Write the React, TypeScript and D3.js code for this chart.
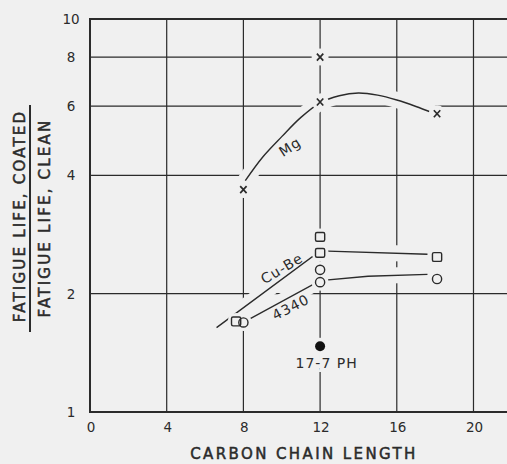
import React from "react";
import * as d3 from "d3";

// chart values
const xTicks = [0, 4, 8, 12, 16, 20];
const yTicks = [1, 2, 4, 6, 8, 10];
const xGrid = [4, 8, 12, 16, 20];
const yGrid = [2, 4, 6, 8];

// Mg (x markers) and its curve
const mgX = [8, 12, 12, 18.1];
const mgY = [3.68, 8.0, 6.15, 5.74];
const mgCurveX = [8.1, 9, 10, 11, 12, 13, 14, 15, 16, 17, 17.8];
const mgCurveY = [3.88, 4.45, 5.02, 5.62, 6.12, 6.38, 6.48, 6.4, 6.22, 5.99, 5.79];

// Cu-Be (squares) and its line
const cuBeX = [7.62, 12, 12, 18.1];
const cuBeY = [1.7, 2.79, 2.54, 2.48];
const cuBeLineX = [6.6, 12, 17.6];
const cuBeLineY = [1.64, 2.57, 2.52];

// 4340 (open circles) and its line
const steelX = [8, 12, 12, 18.1];
const steelY = [1.69, 2.3, 2.14, 2.18];
const steelLineX = [8, 12, 14.5, 17.6];
const steelLineY = [1.69, 2.16, 2.215, 2.24];

// 17-7 PH (filled dot)
const phX = [12];
const phY = [1.47];

const W = 507;
const H = 464;
const BG = "#f0f0f0";
const INK = "#2b2b2b";
const FONT = "'DejaVu Sans', sans-serif";

export default function App() {
  const x = d3.scaleLinear().domain([0, 21.8]).range([90, 508]);
  const y = d3.scaleLog().domain([1, 10]).range([412, 19]);

  const line = (xs: number[], ys: number[], curve: d3.CurveFactory) =>
    d3
      .line<number>()
      .x((d, i) => x(xs[i]))
      .y((d) => y(d))
      .curve(curve)(ys) || "";

  const mgPath = line(mgCurveX, mgCurveY, d3.curveCatmullRom);
  const cuBePath = line(cuBeLineX, cuBeLineY, d3.curveLinear);
  const steelPath = line(steelLineX, steelLineY, d3.curveLinear);
  const curves = [mgPath, cuBePath, steelPath];

  // every marker, for the halos that break the lines around them
  const allMarks = [
    ...mgX.map((v, i) => [v, mgY[i]]),
    ...cuBeX.map((v, i) => [v, cuBeY[i]]),
    ...steelX.map((v, i) => [v, steelY[i]]),
    ...phX.map((v, i) => [v, phY[i]]),
  ];

  const labels = [
    { t: "Mg", x: 10.43, y: 4.73, r: -33 },
    { t: "Cu-Be", x: 10.0, y: 2.32, r: -31 },
    { t: "4340", x: 10.47, y: 1.85, r: -27 },
    { t: "17-7 PH", x: 12.34, y: 1.33, r: 0 },
  ];

  return (
    <svg
      width={W}
      height={H}
      style={{ position: "absolute", left: 0, top: 0 }}
      fontFamily={FONT}
    >
      <rect width={W} height={H} fill={BG} />

      {/* grid */}
      {xGrid.map((v) => (
        <line key={"gx" + v} x1={x(v)} x2={x(v)} y1={y(10)} y2={y(1)} stroke={INK} strokeWidth={1.2} />
      ))}
      {yGrid.map((v) => (
        <line key={"gy" + v} x1={x(0)} x2={W} y1={y(v)} y2={y(v)} stroke={INK} strokeWidth={1.2} />
      ))}

      {/* halos that cut the grid under curves and labels */}
      {curves.map((p, i) => (
        <path key={"h" + i} d={p} fill="none" stroke={BG} strokeWidth={16} strokeLinecap="round" />
      ))}
      {labels.map((l) => (
        <text
          key={"lh" + l.t}
          transform={`translate(${x(l.x)},${y(l.y)}) rotate(${l.r})`}
          textAnchor="middle"
          dominantBaseline="central"
          fontSize={14}
          letterSpacing={1}
          fill={BG}
          stroke={BG}
          strokeWidth={8}
        >
          {l.t}
        </text>
      ))}

      {/* curves */}
      {curves.map((p, i) => (
        <path key={"c" + i} d={p} fill="none" stroke={INK} strokeWidth={1.4} />
      ))}

      {/* marker halos */}
      {allMarks.map((m, i) => (
        <circle key={"mh" + i} cx={x(m[0])} cy={y(m[1])} r={8.5} fill={BG} />
      ))}

      {/* markers */}
      {mgX.map((v, i) => {
        const cx = x(v);
        const cy = y(mgY[i]);
        return (
          <path
            key={"mg" + i}
            d={`M${cx - 3.2},${cy - 3.5}L${cx + 3.2},${cy + 3.5}M${cx + 3.2},${cy - 3.5}L${cx - 3.2},${cy + 3.5}`}
            stroke={INK}
            strokeWidth={1.7}
          />
        );
      })}
      {cuBeX.map((v, i) => (
        <rect
          key={"cb" + i}
          x={x(v) - 4.6}
          y={y(cuBeY[i]) - 4.4}
          width={9.2}
          height={8.8}
          rx={1.5}
          fill={BG}
          stroke={INK}
          strokeWidth={1.4}
        />
      ))}
      {steelX.map((v, i) => (
        <circle key={"st" + i} cx={x(v)} cy={y(steelY[i])} r={4.6} fill="none" stroke={INK} strokeWidth={1.4} />
      ))}
      {phX.map((v, i) => (
        <circle key={"ph" + i} cx={x(v)} cy={y(phY[i])} r={5} fill="#111" />
      ))}

      {/* labels */}
      {labels.map((l) => (
        <text
          key={"l" + l.t}
          transform={`translate(${x(l.x)},${y(l.y)}) rotate(${l.r})`}
          textAnchor="middle"
          dominantBaseline="central"
          fontSize={14}
          letterSpacing={1}
          fill={INK}
        >
          {l.t}
        </text>
      ))}

      {/* frame */}
      <line x1={x(0)} x2={x(0)} y1={y(10) - 1} y2={y(1) + 1} stroke={INK} strokeWidth={2} />
      <line x1={x(0)} x2={W} y1={y(1)} y2={y(1)} stroke={INK} strokeWidth={2} />
      <line x1={x(0)} x2={W} y1={y(10)} y2={y(10)} stroke={INK} strokeWidth={2} />

      {/* tick labels */}
      {xTicks.map((v) => (
        <text key={"tx" + v} x={x(v) + 1} y={432} textAnchor="middle" fontSize={13.5} fill={INK}>
          {v}
        </text>
      ))}
      {yTicks.map((v) => (
        <text key={"ty" + v} x={71} y={y(v)} dy="0.36em" textAnchor="middle" fontSize={13.5} fill={INK}>
          {v}
        </text>
      ))}

      {/* axis titles */}
      <text
        x={304}
        y={459}
        textAnchor="middle"
        fontSize={15}
        letterSpacing={2.4}
        fill={INK}
        stroke={INK}
        strokeWidth={0.5}
      >
        CARBON CHAIN LENGTH
      </text>
      <text
        transform={`translate(25,216) rotate(-90)`}
        textAnchor="middle"
        fontSize={15}
        letterSpacing={2.2}
        fill={INK}
        stroke={INK}
        strokeWidth={0.5}
      >
        FATIGUE LIFE, COATED
      </text>
      <line x1={30} x2={30} y1={105} y2={332} stroke={INK} strokeWidth={2} />
      <text
        transform={`translate(50,218) rotate(-90)`}
        textAnchor="middle"
        fontSize={15}
        letterSpacing={2.2}
        fill={INK}
        stroke={INK}
        strokeWidth={0.5}
      >
        FATIGUE LIFE, CLEAN
      </text>
    </svg>
  );
}
